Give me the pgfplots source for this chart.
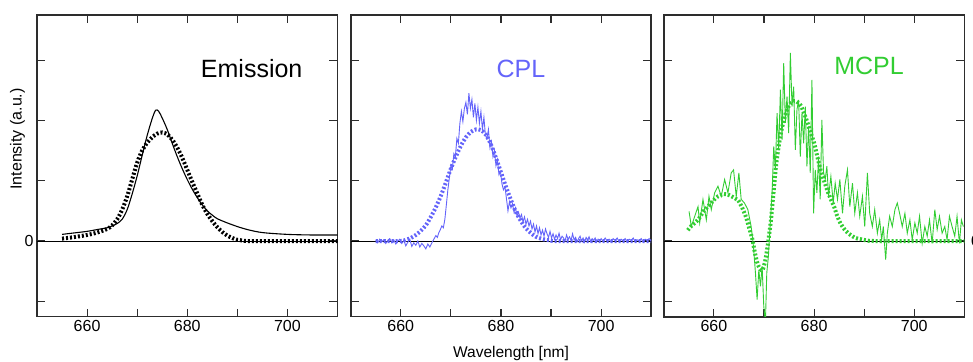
\documentclass[border=0pt]{standalone}
\usepackage{fontspec}
\setmainfont{Liberation Sans}
\usepackage{pgfplots}
\pgfplotsset{compat=1.18}
\definecolor{cplblue}{RGB}{100,100,250}
\definecolor{mcplgreen}{RGB}{50,205,50}
\definecolor{axgray}{RGB}{45,45,45}
\pgfplotsset{
  panel/.style={
    scale only axis, width=300.5pt, height=301.4pt,
    xmin=650, xmax=710, ymin=-1.255, ymax=3.743,
    xtick={660,680,700}, minor xtick={670,690},
    ytick={-1,0,1,2,3}, yticklabels={},
    tick align=inside, major tick length=8pt, minor tick length=8pt,
    tick style={axgray, line width=1.1pt},
    axis line style={axgray, line width=1.6pt},
    ticklabel style={font=\fontsize{16}{19}\selectfont},
    /pgf/number format/assume math mode=true,
    /pgf/number format/1000 sep={},
    anchor=south west, clip=true,
  },
  zeroline/.style={black, line width=1pt, forget plot},
  dots/.style={line width=4pt, dash pattern=on 2pt off 2pt, smooth},
}
\begin{document}
\begin{tikzpicture}
\path[use as bounding box] (0,0) rectangle (973pt,361pt);
\clip (0,0) rectangle (973pt,361pt);
% ---------------- Emission
\begin{axis}[panel, at={(37pt,44.3pt)}, yticklabels={{},0,{},{},{}}]
\addplot[zeroline] coordinates {(650,0) (710,0)};
\addplot[black, line width=1.1pt, smooth] coordinates {
(655,0.11) (657,0.13) (660,0.16) (662,0.19) (664,0.22) (665,0.25) (666,0.29)
(667,0.36) (668,0.52) (669,0.78) (670,1.08) (671,1.42) (672,1.75) (673,2.03)
(673.7,2.17) (674.3,2.15) (675,2.04) (676,1.85) (677,1.62) (678,1.40) (679,1.20)
(680,1.02) (681,0.86) (682,0.72) (683,0.60) (684,0.50) (685,0.43) (686,0.37)
(688,0.30) (690,0.24) (692,0.19) (695,0.14) (700,0.11) (705,0.10) (710,0.10)};
\addplot[black, dots] coordinates {
(655,0.04) (657,0.06) (660,0.10) (662,0.14) (664,0.20) (665,0.26) (666,0.36)
(667,0.52) (668,0.74) (669,1.02) (670,1.30) (671,1.50) (672,1.63) (673,1.72)
(674,1.78) (675,1.80) (676,1.77) (677,1.68) (678,1.55) (679,1.38) (680,1.18)
(681,0.98) (682,0.79) (683,0.60) (684,0.45) (685,0.33) (686,0.23) (687,0.15)
(688,0.09) (689,0.05) (690,0.02) (691,0.01) (692,0) (700,0) (710,0)};
\end{axis}
% ---------------- CPL
\begin{axis}[panel, at={(350.7pt,44.3pt)}]
\addplot[zeroline] coordinates {(650,0) (710,0)};
\addplot[cplblue, dots] coordinates {
(655,0) (660,0) (661,0.02) (662,0.05) (663,0.10) (664,0.17) (665,0.26) (666,0.40)
(667,0.56) (668,0.75) (669,0.97) (670,1.20) (671,1.40) (672,1.58) (673,1.72)
(674,1.81) (675,1.85) (676,1.84) (677,1.76) (678,1.60) (679,1.38) (680,1.14)
(681,0.90) (682,0.68) (683,0.48) (684,0.33) (685,0.21) (686,0.13) (687,0.07)
(688,0.04) (689,0.02) (690,0.01) (691,0) (700,0) (710,0)};
\addplot[cplblue, line width=0.9pt] coordinates {
(655.0,0.02) (655.4,-0.03) (655.8,0.03) (656.2,-0.01) (656.6,0.02) (657.0,-0.04)
(657.4,0.01) (657.8,0.04) (658.2,-0.03) (658.6,0.02) (659.0,-0.05) (659.4,0.00)
(659.8,0.03) (660.2,-0.04) (660.6,0.01) (661.0,-0.08) (661.4,-0.02) (661.8,0.03)
(662.2,-0.09) (662.6,-0.03) (663.0,-0.07) (663.4,0.00) (663.8,-0.10) (664.2,-0.04)
(664.6,-0.08) (665.0,-0.13) (665.4,-0.05) (665.8,-0.10) (666.2,-0.03) (666.6,0.03)
(667.0,0.09) (667.3,0.06) (667.6,0.14) (667.9,0.19) (668.2,0.25) (668.5,0.22)
(668.8,0.36) (669.1,0.60) (669.4,0.85) (669.7,1.05) (670.0,1.25) (670.3,1.20)
(670.6,1.45) (670.9,1.40) (671.2,1.70) (671.5,1.62) (671.8,1.95) (672.1,2.15)
(672.4,1.98) (672.7,2.20) (673.0,2.30) (673.3,2.10) (673.6,2.45) (673.9,2.20)
(674.2,2.35) (674.5,2.05) (674.8,2.28) (675.1,2.00) (675.4,2.22) (675.7,1.95)
(676.0,2.15) (676.3,1.85) (676.6,2.05) (676.9,1.75) (677.2,1.70) (677.5,1.85)
(677.8,1.55) (678.1,1.65) (678.4,1.40) (678.7,1.50) (679.0,1.25) (679.3,1.35)
(679.6,1.10) (679.9,1.15) (680.2,0.95) (680.5,0.85) (680.8,0.90) (681.1,0.70)
(681.4,0.50) (681.7,0.65) (682.0,0.55) (682.3,0.62) (682.6,0.48) (682.9,0.55)
(683.2,0.42) (683.5,0.48) (683.8,0.38) (684.1,0.44) (684.4,0.32) (684.7,0.40)
(685.0,0.28) (685.3,0.36) (685.6,0.25) (685.9,0.33) (686.2,0.20) (686.5,0.28)
(686.8,0.15) (687.1,0.25) (687.4,0.12) (687.7,0.22) (688.0,0.10) (688.3,0.18)
(688.6,0.08) (688.9,0.20) (689.2,0.12) (689.5,0.06) (689.8,0.16) (690.1,0.05)
(690.4,0.12) (690.7,0.03) (691.0,0.10) (691.3,0.04) (691.6,0.13) (691.9,0.02)
(692.2,0.08) (692.5,0.05) (692.8,0.00) (693.1,0.10) (693.4,0.03) (693.7,0.07)
(694.0,0.01) (694.3,0.12) (694.6,0.02) (694.9,0.06) (695.2,-0.01) (695.5,0.04)
(695.8,0.08) (696.1,0.00) (696.4,0.05) (696.7,-0.02) (697.0,0.06) (697.3,0.02)
(697.6,0.07) (697.9,-0.01) (698.2,0.04) (698.5,0.01) (698.8,0.05) (699.1,-0.02)
(699.4,0.03) (699.7,0.00) (700.0,0.04) (700.4,-0.01) (700.8,0.05) (701.2,0.00)
(701.6,0.03) (702.0,-0.02) (702.4,0.04) (702.8,0.01) (703.2,0.05) (703.6,-0.01)
(704.0,0.03) (704.4,0.00) (704.8,0.04) (705.2,-0.02) (705.6,0.03) (706.0,0.01)
(706.4,0.05) (706.8,-0.01) (707.2,0.02) (707.6,0.00) (708.0,0.04) (708.4,-0.02)
(708.8,0.03) (709.2,0.01) (709.6,0.04) (710.0,0.00)};
\end{axis}
% ---------------- MCPL
\begin{axis}[panel, at={(663.8pt,44.3pt)}]
\addplot[zeroline] coordinates {(650,0) (710,0)};
\addplot[mcplgreen, dots] coordinates {
(654.8,0.18) (655.5,0.25) (656.8,0.35) (658,0.50) (658.8,0.57) (660,0.68)
(660.8,0.74) (662,0.78) (662.8,0.77) (664,0.72) (664.8,0.68) (665.6,0.56)
(666.4,0.40) (667.1,0.20) (667.7,0.02) (668.2,-0.20) (668.7,-0.37) (669.2,-0.46)
(669.7,-0.48) (670.2,-0.35) (670.7,-0.10) (671.1,0.15) (671.4,0.35) (671.9,0.80)
(672.4,1.24) (672.9,1.55) (673.4,1.80) (673.9,1.98) (674.4,2.13) (674.9,2.23)
(675.4,2.29) (675.9,2.32) (676.4,2.32) (676.9,2.29) (677.4,2.24) (678,2.12)
(678.7,1.96) (679.3,1.80) (680,1.63) (680.6,1.42) (681.3,1.18) (682,1.00)
(682.6,0.85) (683.3,0.70) (684,0.57) (684.6,0.42) (685.3,0.29) (686.3,0.17)
(687.3,0.10) (688.3,0.05) (689.3,0.03) (690.5,0.01) (692,0) (700,0) (710,0)};
\addplot[mcplgreen, line width=0.9pt] coordinates {
(655.04,0.49) (655.50,0.24) (656.17,0.41) (656.83,0.57) (657.16,0.30) (657.82,0.69)
(658.49,0.35) (659.02,0.74) (659.48,0.52) (660.15,0.80) (660.81,0.91) (661.47,0.74)
(662.14,1.02) (662.80,0.80) (663.46,1.13) (663.93,1.18) (664.46,0.74) (664.99,1.13)
(665.45,0.69) (666.11,0.63) (666.78,0.52) (667.44,0.24) (667.90,-0.09) (668.30,-0.53)
(668.63,-0.97) (668.97,-0.48) (669.30,-0.75) (669.63,-0.42) (669.96,-1.08) (670.29,-1.35)
(670.56,-0.53) (670.89,-0.25) (671.22,0.24) (671.62,0.80) (671.95,1.57) (672.28,1.18)
(672.61,2.12) (672.94,1.51) (673.28,2.51) (673.61,1.68) (673.94,2.95) (674.27,1.96)
(674.60,2.40) (674.93,1.79) (675.27,3.12) (675.60,2.23) (675.93,2.56) (676.26,1.51)
(676.59,2.18) (676.92,2.34) (677.25,1.40) (677.59,2.12) (677.92,1.62) (678.25,2.23)
(678.58,1.24) (678.91,1.90) (679.24,1.13) (679.58,2.67) (679.91,0.46) (680.24,1.18)
(680.57,0.80) (680.90,1.40) (681.23,0.69) (681.56,2.01) (681.90,1.13) (682.23,1.02)
(682.56,1.24) (682.89,0.74) (683.36,1.07) (683.82,0.63) (684.22,0.96) (684.68,0.69)
(685.15,1.02) (685.68,0.46) (686.14,0.91) (686.67,1.18) (687.14,0.57) (687.67,0.96)
(688.13,0.46) (688.66,0.80) (689.12,0.41) (689.66,0.74) (690.12,0.24) (690.65,1.13)
(691.11,0.46) (691.64,0.24) (692.11,0.52) (692.64,0.13) (693.10,0.35) (693.50,0.02)
(693.83,0.24) (694.30,-0.31) (694.63,0.13) (695.09,0.41) (695.62,0.24) (696.15,0.52)
(696.62,0.63) (697.08,0.46) (697.61,0.24) (698.14,0.46) (698.61,0.13) (699.14,0.35)
(699.60,0.02) (700.13,0.30) (700.60,0.13) (701.06,0.41) (701.59,-0.04) (702.12,0.24)
(702.59,0.08) (703.05,0.35) (703.58,-0.04) (704.11,0.52) (704.58,0.19) (705.04,0.41)
(705.57,0.13) (706.10,0.24) (706.56,0.02) (707.03,0.41) (707.56,0.24) (708.09,0.08)
(708.55,0.41) (709.02,-0.04) (709.42,0.35) (709.81,0.24)};
\end{axis}
% ---------------- texts
\node[anchor=base, inner sep=0, font=\fontsize{25}{30}\selectfont] at (251.7pt,283.3pt) {Emission};
\node[anchor=base, inner sep=0, text=cplblue, font=\fontsize{25}{30}\selectfont] at (521pt,283.3pt) {CPL};
\node[anchor=base, inner sep=0, text=mcplgreen, font=\fontsize{25}{30}\selectfont] at (869pt,286pt) {MCPL};
\node[rotate=90, inner sep=0, font=\fontsize{16}{19}\selectfont] at (17.5pt,222pt) {Intensity (a.u.)};
\node[anchor=base, inner sep=0, font=\fontsize{15.5}{18}\selectfont] at (511pt,3.6pt) {Wavelength [nm]};
\node[anchor=base west, inner sep=0, font=\fontsize{16}{19}\selectfont] at (971pt,114.3pt) {0};
\end{tikzpicture}
\end{document}
